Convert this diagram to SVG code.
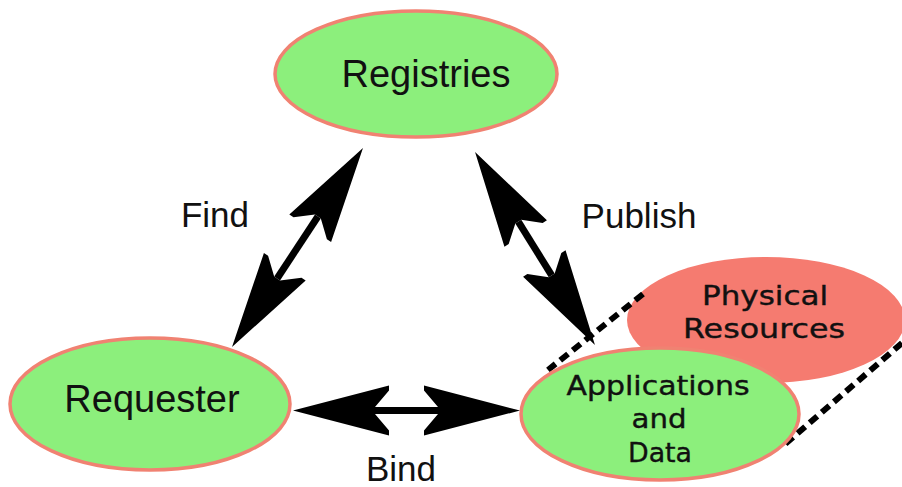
<svg xmlns="http://www.w3.org/2000/svg" width="902" height="487" viewBox="0 0 902 487">
<style>
.g{fill:#8cef7c;stroke:#f08272;stroke-width:3.5}
.p{fill:#f57b70}
.t{font-family:"Liberation Sans",Arial,sans-serif;fill:#111;text-anchor:middle}
.v{font-family:"DejaVu Sans",Verdana,sans-serif;fill:#111;stroke:#111;stroke-width:0.4;text-anchor:middle}
.sh{stroke:#000;stroke-width:7;fill:none;marker-start:url(#ah);marker-end:url(#ah)}
.d{stroke:#000;stroke-width:6;stroke-dasharray:10 6;fill:none}
</style>
<defs>
<marker id="ah" markerUnits="userSpaceOnUse" orient="auto-start-reverse" refX="0" refY="0" markerWidth="100" markerHeight="60" overflow="visible">
<path d="M82,0 L-14,-25 L-14,-20 L0,-3.5 L0,3.5 L-14,20 L-14,25 Z" fill="#000"/>
</marker>
</defs>
<rect width="902" height="487" fill="#fff"/>
<g id="physical">
<ellipse class="p" cx="766" cy="320" rx="139" ry="63"/>
<text class="v" x="765" y="305" font-size="27" textLength="126" lengthAdjust="spacingAndGlyphs">Physical</text>
<text class="v" x="764" y="338" font-size="27" textLength="162" lengthAdjust="spacingAndGlyphs">Resources</text>
</g>
<g id="extrusion">
<line class="d" x1="643" y1="294" x2="548" y2="370"/>
<line class="d" x1="902" y1="343" x2="784" y2="445"/>
</g>
<g id="applications">
<ellipse class="g" cx="660" cy="414" rx="139" ry="66"/>
<text class="v" x="658" y="395" font-size="26" textLength="183" lengthAdjust="spacingAndGlyphs">Applications</text>
<text class="v" x="659" y="428" font-size="27" textLength="55" lengthAdjust="spacingAndGlyphs">and</text>
<text class="v" x="660" y="462" font-size="27" textLength="64" lengthAdjust="spacingAndGlyphs">Data</text>
</g>
<g id="registries">
<ellipse class="g" cx="416" cy="74" rx="141" ry="63"/>
<text class="t" x="426" y="87" font-size="38">Registries</text>
</g>
<g id="requester">
<ellipse class="g" cx="150" cy="404" rx="140" ry="66"/>
<text class="t" x="152" y="412" font-size="38">Requester</text>
</g>
<g id="connectors">
<line class="sh" x1="317.9" y1="216.5" x2="277.1" y2="278.5"/>
<line class="sh" x1="518.3" y1="221.6" x2="551.7" y2="275.4"/>
<line class="sh" x1="375" y1="410.5" x2="438" y2="410.5"/>
<text class="t" x="215" y="227" font-size="35">Find</text>
<text class="t" x="639" y="228" font-size="35">Publish</text>
<text class="t" x="401" y="481" font-size="35">Bind</text>
</g>
</svg>
